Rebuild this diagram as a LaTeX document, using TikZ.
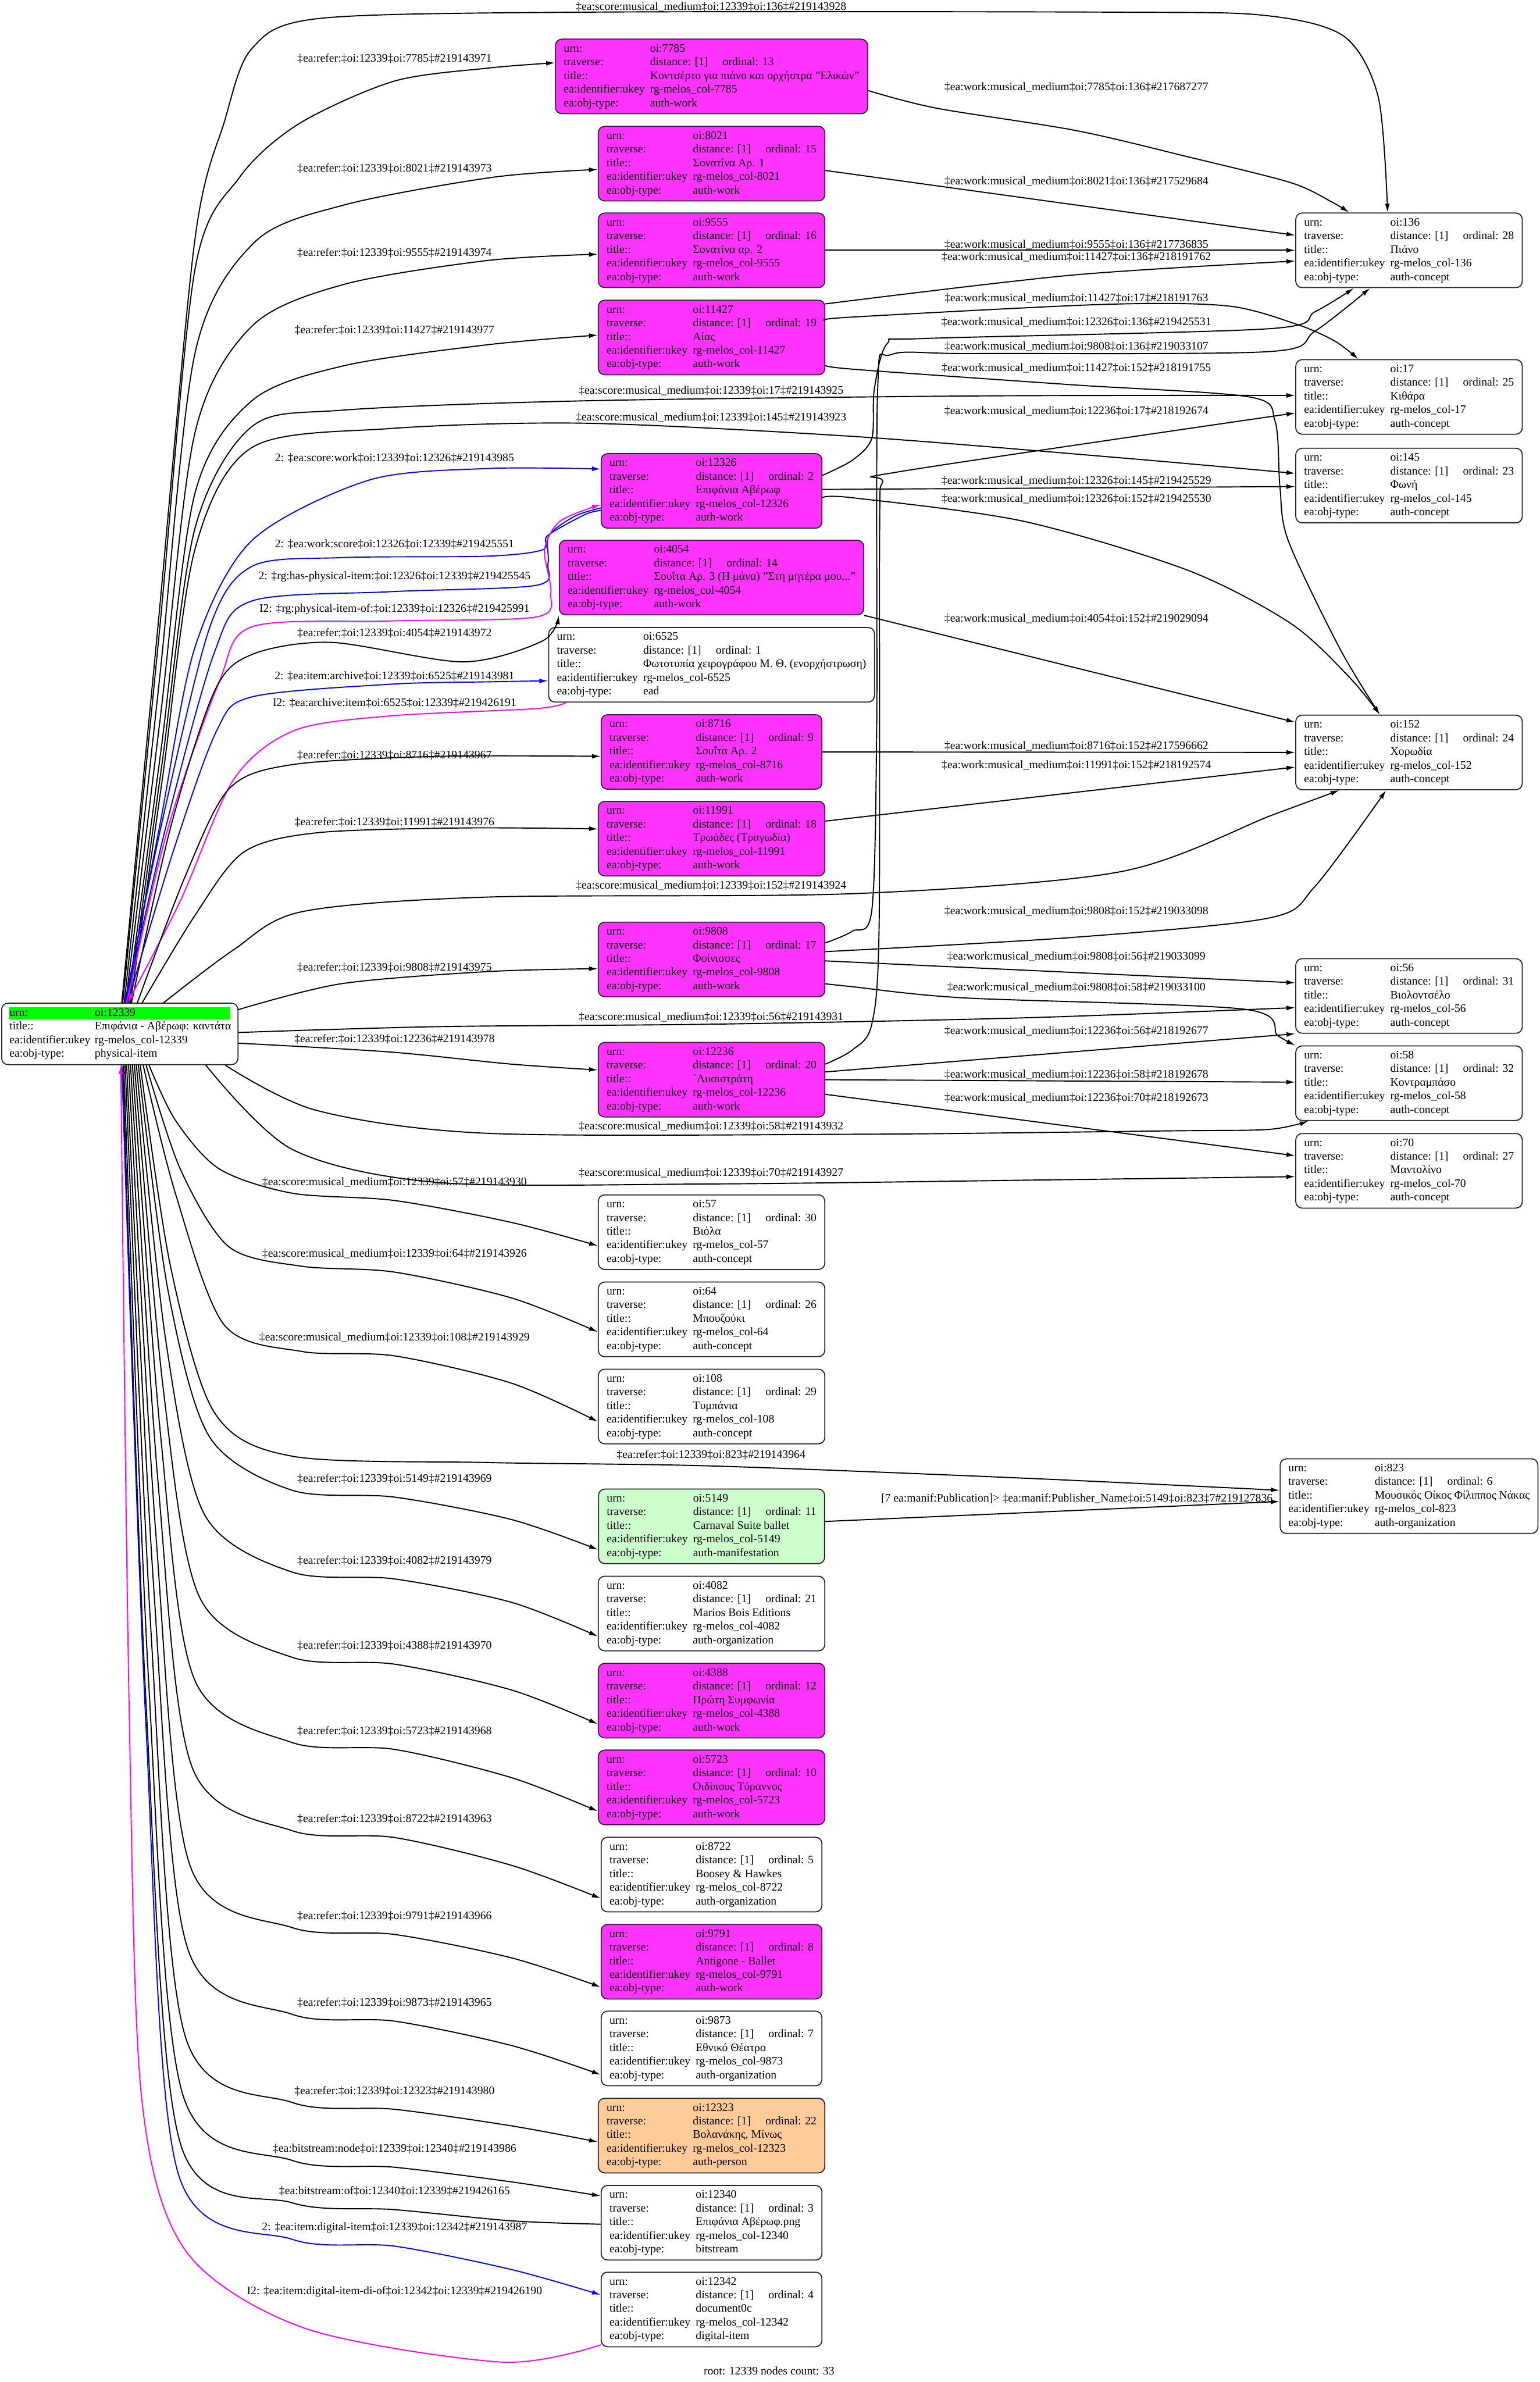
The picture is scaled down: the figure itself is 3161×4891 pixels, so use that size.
\documentclass[tikz,border=0pt]{standalone}
\usepackage{fontspec}
\setmainfont{Liberation Serif}
\usepackage{xcolor}
\definecolor{workmag}{HTML}{FF33FF}
\definecolor{manifgreen}{HTML}{CCFFCC}
\definecolor{personorange}{HTML}{FFCC99}
\definecolor{urngreen}{HTML}{00FF00}
\definecolor{edgeblue}{HTML}{0000FF}
\definecolor{edgemag}{HTML}{FF00FF}
\usepackage{tikz}
\usetikzlibrary{arrows.meta, calc}

\newcommand{\recfont}{\fontsize{6.7}{7.97}\selectfont}
\newcommand{\recbox}[4]{\begin{tabular}{@{}l@{\hspace{0.11cm}}l@{}}
urn: & oi:#1\\
traverse: & distance: [1]\hspace{0.3cm}ordinal: #2\\
title:: & #3\\
ea:identifier:ukey & rg-melos\_col-#1\\
ea:obj-type: & #4
\end{tabular}}
\newcommand{\refr}[2]{‡ea:refer:‡oi:12339‡oi:#1‡\##2}
\newcommand{\smm}[2]{‡ea:score:musical\_medium‡oi:12339‡oi:#1‡\##2}
\newcommand{\wmm}[3]{‡ea:work:musical\_medium‡oi:#1‡oi:#2‡\##3}

\begin{document}
\begin{tikzpicture}[x=0.01cm, y=-0.01cm,
	rec/.style={draw=black!85, rounded corners=0.13cm, inner xsep=0.17cm, inner ysep=0.065cm,
	            font=\recfont, line width=0.6pt},
	work/.style={rec, fill=workmag},
	plain/.style={rec, fill=white},
	manif/.style={rec, fill=manifgreen},
	person/.style={rec, fill=personorange},
	lbl/.style={font=\recfont, inner sep=0pt},
	arr/.style={-{Latex[length=0.18cm, width=0.1cm]}, line width=0.65pt},
	arrblue/.style={arr, draw=edgeblue},
	arrmag/.style={arr, draw=edgemag}
	]
\fill[white] (0,0) rectangle (3161,4891);
\useasboundingbox (0,0) rectangle (3161,4891);

% Wurzel
\node[plain, inner xsep=0.14cm, inner ysep=0.07cm] (n12339) at (246,2123) {%
	\setlength{\fboxsep}{0pt}%
	\begin{tabular}{@{}l@{}l@{}}
	\colorbox{urngreen}{\makebox[1.72cm][l]{\rule[-0.07cm]{0pt}{0.25cm}\hspace{0.02cm}urn:}}\hspace{0.02cm} &
	\colorbox{urngreen}{\makebox[2.81cm][l]{\rule[-0.07cm]{0pt}{0.25cm}\hspace{0.03cm}oi:12339}}\\
	\hspace{0.02cm}title:: & \hspace{0.03cm}Επιφάνια - Αβέρωφ: καντάτα\\
	\hspace{0.02cm}ea:identifier:ukey & \hspace{0.03cm}rg-melos\_col-12339\\
	\hspace{0.02cm}ea:obj-type: & \hspace{0.03cm}physical-item
	\end{tabular}};

% Rang 1
\node[work] (n7785) at (1461,157) {\recbox{7785}{13}{Κοντσέρτο για πιάνο και ορχήστρα "Ελικών"}{auth-work}};
\node[work] (n8021) at (1461,336) {\recbox{8021}{15}{Σονατίνα Αρ. 1}{auth-work}};
\node[work] (n9555) at (1461,514) {\recbox{9555}{16}{Σονατίνα αρ. 2}{auth-work}};
\node[work] (n11427) at (1461,693) {\recbox{11427}{19}{Αίας}{auth-work}};
\node[work] (n12326) at (1461,1008) {\recbox{12326}{2}{Επιφάνια Αβέρωφ}{auth-work}};
\node[work] (n4054) at (1461,1186) {\recbox{4054}{14}{Σουΐτα Αρ. 3 (Η μάνα) "Στη μητέρα μου..."}{auth-work}};
\node[plain] (n6525) at (1461,1365) {\recbox{6525}{1}{Φωτοτυπία χειρογράφου Μ. Θ. (ενορχήστρωση)}{ead}};
\node[work] (n8716) at (1461,1544) {\recbox{8716}{9}{Σουΐτα Αρ. 2}{auth-work}};
\node[work] (n11991) at (1461,1722) {\recbox{11991}{18}{Τρωάδες (Τραγωδία)}{auth-work}};
\node[work] (n9808) at (1461,1970) {\recbox{9808}{17}{Φοίνισσες}{auth-work}};
\node[work] (n12236) at (1461,2217) {\recbox{12236}{20}{΄Λυσιστράτη}{auth-work}};
\node[plain] (n57) at (1461,2530) {\recbox{57}{30}{Βιόλα}{auth-concept}};
\node[plain] (n64) at (1461,2709) {\recbox{64}{26}{Μπουζούκι}{auth-concept}};
\node[plain] (n108) at (1461,2888) {\recbox{108}{29}{Τυμπάνια}{auth-concept}};
\node[manif] (n5149) at (1461,3134) {\recbox{5149}{11}{Carnaval Suite ballet}{auth-manifestation}};
\node[plain] (n4082) at (1461,3313) {\recbox{4082}{21}{Marios Bois Editions}{auth-organization}};
\node[work] (n4388) at (1461,3492) {\recbox{4388}{12}{Πρώτη Συμφωνία}{auth-work}};
\node[work] (n5723) at (1461,3670) {\recbox{5723}{10}{Οιδίπους Τύραννος}{auth-work}};
\node[plain] (n8722) at (1461,3849) {\recbox{8722}{5}{Boosey \& Hawkes}{auth-organization}};
\node[work] (n9791) at (1461,4028) {\recbox{9791}{8}{Antigone - Ballet}{auth-work}};
\node[plain] (n9873) at (1461,4206) {\recbox{9873}{7}{Εθνικό Θέατρο}{auth-organization}};
\node[person] (n12323) at (1461,4385) {\recbox{12323}{22}{Βολανάκης, Μίνως}{auth-person}};
\node[plain] (n12340) at (1461,4564) {\recbox{12340}{3}{Επιφάνια Αβέρωφ.png}{bitstream}};
\node[plain] (n12342) at (1461,4742) {\recbox{12342}{4}{document0c}{digital-item}};

% Rang 2
\node[plain] (n136) at (2893,514) {\recbox{136}{28}{Πιάνο}{auth-concept}};
\node[plain] (n17) at (2893,815) {\recbox{17}{25}{Κιθάρα}{auth-concept}};
\node[plain] (n145) at (2893,997) {\recbox{145}{23}{Φωνή}{auth-concept}};
\node[plain] (n152) at (2893,1545) {\recbox{152}{24}{Χορωδία}{auth-concept}};
\node[plain] (n56) at (2893,2045) {\recbox{56}{31}{Βιολοντσέλο}{auth-concept}};
\node[plain] (n58) at (2893,2224) {\recbox{58}{32}{Κοντραμπάσο}{auth-concept}};
\node[plain] (n70) at (2893,2404) {\recbox{70}{27}{Μαντολίνο}{auth-concept}};
\node[plain] (n823) at (2893,3072) {\recbox{823}{6}{Μουσικός Οίκος Φίλιππος Νάκας}{auth-organization}};

% Kanten von der Wurzel nach oben
\draw[arr] plot[smooth] coordinates {($(n12339.north)+(4,0)$) (323,1300) (400,493) (461,249) (517,100) (655,38) (1200,25) (2300,25) (2600,32) (2760,75) (2830,200) ($(n136.north)+(-44,0)$)};
\draw[arr] plot[smooth] coordinates {($(n12339.north)+(6,0)$) (327,1300) (400,555) (492,364) (614,254) (808,167) (1000,140) ($(n7785.west)+(0,-28)$)};
\draw[arr] plot[smooth] coordinates {($(n12339.north)+(9,0)$) (328,1390) (400,727) (522,498) (706,421) (1012,364) ($(n8021.west)+(0,12)$)};
\draw[arr] plot[smooth] coordinates {($(n12339.north)+(12,0)$) (329,1475) (400,890) (517,670) (706,584) (1000,535) ($(n9555.west)+(0,8)$)};
\draw[arr] plot[smooth] coordinates {($(n12339.north)+(16,0)$) (331,1537) (400,1014) (517,823) (706,751) (1000,708) ($(n11427.west)+(0,-5)$)};
\draw[arr] plot[smooth] coordinates {($(n12339.north)+(19,0)$) (332,1573) (400,1086) (517,876) (706,842) (1200,823) (2000,813) ($(n17.west)+(0,-3)$)};
\draw[arr] plot[smooth] coordinates {($(n12339.north)+(22,0)$) (334,1595) (400,1129) (517,919) (800,880) (1200,869) (1750,896) (2300,940) ($(n145.west)+(0,-25)$)};
\draw[arrblue] plot[smooth] coordinates {($(n12339.north)+(11,0)$) (328,1695) (400,1330) (517,1110) (757,986) (1000,962) ($(n12326.west)+(0,-45)$)};
\draw[arrblue] plot[smooth] coordinates {($(n12326.west)+(0,40)$) (1200,1057) (1124,1100) (1114,1129) (1000,1142) (700,1145) (517,1163) (430,1290) (330,1700) ($(n12339.north)+(11,0)$)};
\draw[arrblue] plot[smooth] coordinates {($(n12326.west)+(0,35)$) (1180,1060) (1127,1100) (1125,1158) (1100,1202) (800,1215) (517,1234) (440,1340) (340,1700) ($(n12339.north)+(12,0)$)};
\draw[arrmag] plot[smooth] coordinates {($(n12339.north)+(14,0)$) (345,1700) (450,1400) (517,1287) (800,1275) (1100,1267) (1131,1217) (1118,1129) (1150,1070) ($(n12326.west)+(0,28)$)};
\draw[arr] plot[smooth] coordinates {($(n12339.north)+(24,0)$) (350,1700) (440,1420) (517,1344) (680,1319) (951,1359) (1114,1316) (n4054.south west)};
\draw[arrblue] plot[smooth] coordinates {($(n12339.north)+(16,0)$) (355,1750) (445,1500) (517,1431) (800,1405) (1000,1400) ($(n6525.west)+(0,33)$)};
\draw[arrmag] plot[smooth] coordinates {($(n6525.south west)+(36,0)$) (1100,1455) (800,1470) (604,1500) (480,1600) (370,1850) ($(n12339.north)+(16,0)$)};
\draw[arr] plot[smooth] coordinates {($(n12339.north)+(36,0)$) (380,1800) (470,1620) (600,1570) (900,1553) ($(n8716.west)+(0,9)$)};
\draw[arr] plot[smooth] coordinates {($(n12339.north)+(46,0)$) (400,1880) (500,1750) (650,1710) (950,1700) ($(n11991.west)+(0,-20)$)};
\draw[arr] plot[smooth] coordinates {($(n12339.north)+(90,0)$) (480,1950) (620,1872) (1000,1842) (1750,1835) (2300,1790) (2611,1674) ($(n152.south)+(-143,0)$)};

% Kanten von der Wurzel nach rechts
\draw[arr] plot[smooth] coordinates {($(n12339.east)+(0,-50)$) (700,2020) (1000,1995) ($(n9808.west)+(0,19)$)};
\draw[arr] plot[smooth] coordinates {($(n12339.east)+(0,-3)$) (900,2108) (1460,2103) (2100,2090) ($(n56.west)+(0,24)$)};
\draw[arr] plot[smooth] coordinates {($(n12339.east)+(0,19)$) (800,2160) (1050,2185) ($(n12236.west)+(0,-20)$)};
\draw[arr] plot[smooth] coordinates {($(n12339.south east)+(-27,0)$) (650,2280) (1000,2327) (1750,2329) (2400,2322) (2605,2319) ($(n58.south west)+(27,0)$)};
\draw[arr] plot[smooth] coordinates {($(n12339.south east)+(-67,0)$) (600,2360) (900,2428) (1460,2431) (2200,2422) ($(n70.west)+(0,12)$)};

% Kanten von der Wurzel nach unten
\draw[arr] plot[smooth] coordinates {($(n12339.south)+(60,0)$) (360,2300) (450,2400) (600,2450) (810,2465) (1050,2510) ($(n57.west)+(0,28)$)};
\draw[arr] plot[smooth] coordinates {($(n12339.south)+(54,0)$) (370,2400) (470,2560) (620,2600) (810,2612) (1050,2665) ($(n64.west)+(0,26)$)};
\draw[arr] plot[smooth] coordinates {($(n12339.south)+(48,0)$) (360,2450) (460,2720) (620,2775) (810,2784) (1050,2840) ($(n108.west)+(0,31)$)};
\draw[arr] plot[smooth] coordinates {($(n12339.south)+(42,0)$) (350,2600) (440,2900) (600,2990) (1000,3003) (1460,3010) (2100,3035) ($(n823.west)+(0,-12)$)};
\draw[arr] plot[smooth] coordinates {($(n12339.south)+(38,0)$) (345,2650) (430,2950) (600,3060) (810,3074) (1050,3120) ($(n5149.west)+(0,48)$)};
\draw[arr] plot[smooth] coordinates {($(n12339.south)+(34,0)$) (340,2750) (420,3110) (600,3228) (810,3242) (1050,3290) ($(n4082.west)+(0,47)$)};
\draw[arr] plot[smooth] coordinates {($(n12339.south)+(30,0)$) (335,2850) (410,3280) (600,3403) (810,3417) (1050,3470) ($(n4388.west)+(0,48)$)};
\draw[arr] plot[smooth] coordinates {($(n12339.south)+(26,0)$) (330,2950) (400,3450) (600,3578) (810,3592) (1050,3650) ($(n5723.west)+(0,49)$)};
\draw[arr] plot[smooth] coordinates {($(n12339.south)+(22,0)$) (325,3050) (395,3630) (600,3759) (810,3773) (1050,3830) ($(n8722.west)+(0,49)$)};
\draw[arr] plot[smooth] coordinates {($(n12339.south)+(18,0)$) (320,3150) (390,3830) (600,3958) (810,3972) (1050,4020) ($(n9791.west)+(0,52)$)};
\draw[arr] plot[smooth] coordinates {($(n12339.south)+(14,0)$) (315,3250) (385,4000) (600,4136) (810,4150) (1050,4200) ($(n9873.west)+(0,54)$)};
\draw[arr] plot[smooth] coordinates {($(n12339.south)+(11,0)$) (310,3350) (380,4180) (600,4317) (810,4331) (1050,4365) ($(n12323.west)+(0,13)$)};
\draw[arr] plot[smooth] coordinates {($(n12339.south)+(8,0)$) (305,3450) (375,4300) (600,4436) (810,4450) (1050,4480) ($(n12340.west)+(0,-55)$)};
\draw[arr] plot[smooth] coordinates {($(n12340.west)+(0,3)$) (1050,4560) (810,4537) (600,4523) (370,4400) (300,3500) ($(n12339.south)+(6,0)$)};
\draw[arrblue] plot[smooth] coordinates {($(n12339.south)+(4,0)$) (300,3550) (365,4460) (600,4598) (810,4612) (1050,4660) ($(n12342.west)+(0,-30)$)};
\draw[arrmag] plot[smooth] coordinates {($(n12342.south west)+(0,-5)$) (1030,4850) (624,4780) (380,4620) (290,4300) (265,3500) ($(n12339.south)+(2,0)$)};

% Kanten von Rang 1 nach Rang 2
\draw[arr] plot[smooth] coordinates {($(n7785.east)+(0,29)$) (1922,222) (2209,268) (2439,322) (2650,375) (2735,415) ($(n136.north)+(-123,0)$)};
\draw[arr] ($(n8021.east)+(0,14)$) -- ($(n136.west)+(0,-31)$);
\draw[arr] (n9555.east) -- (n136.west);
\draw[arr] plot[smooth] coordinates {($(n11427.east)+(0,-69)$) (2200,565) ($(n136.west)+(0,22)$)};
\draw[arr] plot[smooth] coordinates {($(n11427.east)+(0,-35)$) (1750,651) (2267,625) (2519,628) (2660,665) (2740,700) ($(n17.north)+(-104,0)$)};
\draw[arr] plot[smooth] coordinates {($(n11427.east)+(0,56)$) (1750,758) (2200,790) (2565,815) (2618,865) (2628,1000) (2645,1110) (2750,1330) ($(n152.north)+(-60,0)$)};
\draw[arr] plot[smooth] coordinates {($(n12326.east)+(0,-32)$) (1750,945) (1790,900) (1795,800) (1822,705) (1900,695) (2605,675) (2700,640) ($(n136.south)+(-113,0)$)};
\draw[arr] plot[smooth] coordinates {($(n9808.east)+(0,-34)$) (1750,1912) (1790,1869) (1800,1500) (1802,800) (1830,728) (2000,726) (2605,722) (2700,680) ($(n136.south)+(-80,0)$)};
\draw[arr] plot[smooth] coordinates {($(n12236.east)+(0,-32)$) (1750,2156) (1790,2103) (1805,1900) (1806,1100) (1812,990) (1850,968) ($(n17.west)+(0,33)$)};
\draw[arr] ($(n12326.east)+(0,-3)$) -- ($(n145.west)+(0,2)$);
\draw[arr] plot[smooth] coordinates {($(n12326.east)+(0,14)$) (1750,1022) (2100,1070) (2439,1171) (2650,1280) (2770,1390) ($(n152.north)+(-60,0)$)};
\draw[arr] (n4054.south east) -- ($(n152.west)+(0,-62)$);
\draw[arr] (n8716.east) -- (n152.west);
\draw[arr] ($(n11991.east)+(0,-36)$) -- ($(n152.west)+(0,30)$);
\draw[arr] plot[smooth] coordinates {($(n9808.east)+(0,-16)$) (2200,1925) (2605,1885) (2700,1820) ($(n152.south)+(-47,0)$)};
\draw[arr] ($(n9808.east)+(0,3)$) -- ($(n56.west)+(0,-27)$);
\draw[arr] plot[smooth] coordinates {($(n9808.east)+(0,50)$) (1750,2026) (1980,2049) (2553,2072) (2623,2126) (n58.north west)};
\draw[arr] ($(n12236.east)+(0,-16)$) -- (n56.south west);
\draw[arr] (n12236.east) -- ($(n58.west)+(0,-2)$);
\draw[arr] ($(n12236.east)+(0,30)$) -- ($(n70.west)+(0,-31)$);
\draw[arr] ($(n5149.east)+(0,-10)$) -- ($(n823.west)+(0,11)$);

% Beschriftungen Wurzel -> Rang 1
\node[lbl] (l7785) at (810,120) {\refr{7785}{219143971}};
\node[lbl] (l8021) at (810,346) {\refr{8021}{219143973}};
\node[lbl] (l9555) at (810,519) {\refr{9555}{219143974}};
\node[lbl] (l11427) at (810,678) {\refr{11427}{219143977}};
\node[lbl] (lsw) at (810,941) {2: ‡ea:score:work‡oi:12339‡oi:12326‡\#219143985};
\node[lbl] (lws) at (810,1117) {2: ‡ea:work:score‡oi:12326‡oi:12339‡\#219425551};
\node[lbl] (lhp) at (810,1184) {2: ‡rg:has-physical-item:‡oi:12326‡oi:12339‡\#219425545};
\node[lbl] (lpi) at (810,1251) {I2: ‡rg:physical-item-of:‡oi:12339‡oi:12326‡\#219425991};
\node[lbl] (l4054) at (810,1300) {\refr{4054}{219143972}};
\node[lbl] (lia) at (810,1388) {2: ‡ea:item:archive‡oi:12339‡oi:6525‡\#219143981};
\node[lbl] (lai) at (810,1443) {I2: ‡ea:archive:item‡oi:6525‡oi:12339‡\#219426191};
\node[lbl] (l8716) at (810,1551) {\refr{8716}{219143967}};
\node[lbl] (l11991) at (810,1688) {\refr{11991}{219143976}};
\node[lbl] (l9808) at (810,1987) {\refr{9808}{219143975}};
\node[lbl] (l12236) at (810,2134) {\refr{12236}{219143978}};
\node[lbl] (l57) at (810,2427) {\smm{57}{219143930}};
\node[lbl] (l64) at (810,2574) {\smm{64}{219143926}};
\node[lbl] (l108) at (810,2746) {\smm{108}{219143929}};
\node[lbl] (l5149) at (810,3036) {\refr{5149}{219143969}};
\node[lbl] (l4082) at (810,3204) {\refr{4082}{219143979}};
\node[lbl] (l4388) at (810,3379) {\refr{4388}{219143970}};
\node[lbl] (l5723) at (810,3554) {\refr{5723}{219143968}};
\node[lbl] (l8722) at (810,3735) {\refr{8722}{219143963}};
\node[lbl] (l9791) at (810,3934) {\refr{9791}{219143966}};
\node[lbl] (l9873) at (810,4112) {\refr{9873}{219143965}};
\node[lbl] (l12323) at (810,4293) {\refr{12323}{219143980}};
\node[lbl] (lbn) at (810,4412) {‡ea:bitstream:node‡oi:12339‡oi:12340‡\#219143986};
\node[lbl] (lbo) at (810,4499) {‡ea:bitstream:of‡oi:12340‡oi:12339‡\#219426165};
\node[lbl] (ldi) at (810,4574) {2: ‡ea:item:digital-item‡oi:12339‡oi:12342‡\#219143987};
\node[lbl] (ldo) at (810,4705) {I2: ‡ea:item:digital-item-di-of‡oi:12342‡oi:12339‡\#219426190};

% Beschriftungen Wurzel -> Rang 2
\node[lbl] (s136) at (1460,14) {\smm{136}{219143928}};
\node[lbl] (s17) at (1460,802) {\smm{17}{219143925}};
\node[lbl] (s145) at (1460,857) {\smm{145}{219143923}};
\node[lbl] (s152) at (1460,1818) {\smm{152}{219143924}};
\node[lbl] (s56) at (1460,2088) {\smm{56}{219143931}};
\node[lbl] (s58) at (1460,2313) {\smm{58}{219143932}};
\node[lbl] (s70) at (1460,2408) {\smm{70}{219143927}};
\node[lbl] (l823) at (1460,2987) {\refr{823}{219143964}};

% Beschriftungen Rang 1 -> Rang 2
\node[lbl] (m7785) at (2210,179) {\wmm{7785}{136}{217687277}};
\node[lbl] (m8021) at (2210,372) {\wmm{8021}{136}{217529684}};
\node[lbl] (m9555) at (2210,503) {\wmm{9555}{136}{217736835}};
\node[lbl] (m11427a) at (2210,528) {\wmm{11427}{136}{218191762}};
\node[lbl] (m11427b) at (2210,613) {\wmm{11427}{17}{218191763}};
\node[lbl] (m12326a) at (2210,661) {\wmm{12326}{136}{219425531}};
\node[lbl] (m9808a) at (2210,712) {\wmm{9808}{136}{219033107}};
\node[lbl] (m11427c) at (2210,756) {\wmm{11427}{152}{218191755}};
\node[lbl] (m12236a) at (2210,844) {\wmm{12236}{17}{218192674}};
\node[lbl] (m12326b) at (2210,988) {\wmm{12326}{145}{219425529}};
\node[lbl] (m12326c) at (2210,1024) {\wmm{12326}{152}{219425530}};
\node[lbl] (m4054) at (2210,1271) {\wmm{4054}{152}{219029094}};
\node[lbl] (m8716) at (2210,1532) {\wmm{8716}{152}{217596662}};
\node[lbl] (m11991) at (2210,1571) {\wmm{11991}{152}{218192574}};
\node[lbl] (m9808b) at (2210,1871) {\wmm{9808}{152}{219033098}};
\node[lbl] (m9808c) at (2210,1964) {\wmm{9808}{56}{219033099}};
\node[lbl] (m9808d) at (2210,2028) {\wmm{9808}{58}{219033100}};
\node[lbl] (m12236b) at (2210,2117) {\wmm{12236}{56}{218192677}};
\node[lbl] (m12236c) at (2210,2207) {\wmm{12236}{58}{218192678}};
\node[lbl] (m12236d) at (2210,2254) {\wmm{12236}{70}{218192673}};
\node[lbl] (mpub) at (2211,3077) {[7 ea:manif:Publication]> ‡ea:manif:Publisher\_Name‡oi:5149‡oi:823‡7\#219127836};

\node[lbl] (foot) at (1579,4868) {root: 12339 nodes count: 33};
\end{tikzpicture}
\end{document}
